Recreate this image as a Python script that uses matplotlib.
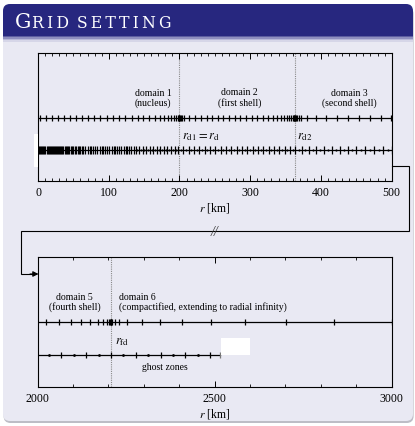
import matplotlib
matplotlib.use("Agg")
import matplotlib.pyplot as plt
from matplotlib.patches import FancyBboxPatch, Rectangle
import numpy as np

plt.rcParams['font.family'] = ['Liberation Serif', 'DejaVu Serif']
plt.rcParams['mathtext.fontset'] = 'stix'

# colours of the slide block
TITLE_BLUE = '#27277f'
BODY = '#e9e9f3'

# domain boundaries [km]
r_d1 = 200
r_d2 = 363
r_fd = 2207

# spectral collocation points, inner part (0 - 500 km)
spec_inner = [3, 11.3, 19.8, 28.3, 36.8, 45.2, 53.7, 62.2, 70.7, 79.6, 88.1, 97.1,
              106, 115, 123.4, 132.4, 140.9, 148.9, 157.4, 165.4, 172.5, 178.6,
              183.8, 188, 191.8, 195, 197.4, 198.6, 199.4, 200, 200.6, 201.5, 203,
              206.5, 213.9, 222, 230.4, 238.5, 246.5, 254.5, 262, 270, 278, 286,
              294, 302, 310, 318.5, 325.6, 332.7, 338.3, 343, 347.7, 351.5, 354.8,
              357.5, 359.8, 361.5, 362.5, 363, 363.6, 364.6, 366.6, 369, 372.3,
              380.8, 392.5, 406.6, 422.2, 438.2, 454.2, 469.3, 484.4, 499.5]

# finite-difference cell interfaces, inner part
fd_faces = [0, 1.5, 3, 4.5, 6, 7.5, 9, 10.5, 12, 13.5, 15, 16.5, 18, 19.5, 21,
            22.5, 24, 25.5, 27, 28.5, 30, 31.5, 33, 34.5, 36, 37.5, 39, 40.5, 42,
            44, 46, 48, 50, 52, 54, 56, 58, 60, 62, 64,
            67, 70, 73, 75, 78, 81, 84, 87, 90, 92, 95, 98, 101, 104, 107, 109,
            112, 115, 118, 121, 124, 126, 129, 132, 135, 138,
            143, 148, 153, 158, 163, 168, 173, 178, 183, 188, 193, 198,
            205.4, 213, 220.5, 228, 235.6, 243.1, 250.7, 258.2, 265.8, 273.3,
            280.8, 288.4, 295.9, 303.5, 311, 318.6, 326.1, 333.6, 341.2, 348.7,
            356.3, 363.8, 373, 383, 393.5, 404, 415, 426.5, 438, 450, 462.5, 475,
            488, 501]

# spectral collocation points, outer part (2000 - 3000 km)
spec_outer = [2024.5, 2060, 2093, 2123.5, 2148, 2169, 2185, 2196, 2201, 2204, 2206,
              2207, 2208, 2210, 2218.6, 2230, 2253.6, 2294, 2345, 2409, 2491, 2585,
              2701, 2838, 3000]

# ghost zones of the finite-difference grid
ghost_faces = [2067, 2137, 2207, 2277, 2347, 2417, 2487]
ghost_centers = [2032, 2102, 2172, 2242, 2312, 2382, 2452]
ghost_end = 2516

W, H = 415, 427
fig = plt.figure(figsize=(W / 100, H / 100), dpi=100)
fig.patch.set_facecolor('white')

# background: the beamer block drawn in pixel coordinates
bg = fig.add_axes([0, 0, 1, 1], zorder=0)
bg.set_xlim(0, W)
bg.set_ylim(H, 0)
bg.axis('off')

bg.add_patch(FancyBboxPatch((3.6, 8), 410, 416, boxstyle="round,pad=0,rounding_size=7",
                            fc='#bdbdc6', ec='none'))
bg.add_patch(FancyBboxPatch((3, 5), 410, 417, boxstyle="round,pad=0,rounding_size=7",
                            fc=BODY, ec='none'))
bg.add_patch(FancyBboxPatch((3, 5), 410, 33, boxstyle="round,pad=0,rounding_size=7",
                            fc=TITLE_BLUE, ec='none'))
bg.add_patch(Rectangle((3, 25), 410, 12, fc=TITLE_BLUE, ec='none'))
# soft shadow under the title bar
shade = ['#5c5ca0', '#8e8ebf', '#b8b8d8', '#d6d6e8']
for i, c in enumerate(shade):
    bg.add_patch(Rectangle((3, 37 + 1.4 * i), 410, 1.4, fc=c, ec='none'))

# small-caps title: big initial, letter-spaced rest
bg.text(14.5, 27.5, 'G', color='white', fontsize=14.8, va='baseline', ha='left',
        family='DejaVu Serif')
bg.text(31.5, 27.5, 'R\u2009I\u2009D\u2002S\u2009E\u2009T\u2009T\u2009I\u2009N\u2009G',
        color='white', fontsize=11.3, va='baseline', ha='left', family='DejaVu Serif')

# connector between the two panels
bg.plot([392, 409, 409, 20.5, 20.5, 33], [167, 167, 232, 232, 275, 275],
        color='k', lw=0.8, solid_joinstyle='miter')
bg.annotate('', xy=(38.5, 275), xytext=(30, 275),
            arrowprops=dict(arrowstyle='-|>', color='k', lw=0.8,
                            mutation_scale=8, shrinkA=0, shrinkB=0))
bg.text(215, 232.5, '//', fontsize=10, color='#3a3a3a', ha='center', va='center',
        style='italic')


def style_axis(ax, major, minor):
    ax.set_facecolor('none')
    ax.set_ylim(0, 1)
    ax.set_yticks([])
    ax.set_xticks(major)
    ax.set_xticks(minor, minor=True)
    ax.tick_params(axis='x', which='both', direction='in', top=True, bottom=True,
                   labelsize=8.5, pad=4)
    ax.tick_params(axis='x', which='major', length=4.5, width=0.7)
    ax.tick_params(axis='x', which='minor', length=2.2, width=0.6)
    for s in ax.spines.values():
        s.set_linewidth(0.8)
    ax.set_xlabel('$r$ [km]', fontsize=8.5, labelpad=1)


# top panel: 0 - 500 km
ax1 = fig.add_axes([0.0916, 0.5745, 0.8523, 0.2991], zorder=1)
ax1.set_xlim(0, 500)
style_axis(ax1, np.arange(0, 501, 100), np.arange(0, 501, 10))

y_spec, y_fd = 0.493, 0.24
ax1.axhline(y_spec, color='k', lw=0.9)
ax1.plot(spec_inner, [y_spec] * len(spec_inner), '|', color='k', ms=4.2, mew=0.9)
ax1.axhline(y_fd, color='k', lw=0.9)
faces = np.array(fd_faces)
ax1.plot(faces, [y_fd] * len(faces), '|', color='k', ms=6.2, mew=0.9)
centers = (faces[:-1] + faces[1:]) / 2
centers = centers[centers > 140]
ax1.plot(centers, [y_fd] * len(centers), 'o', color='k', ms=1.6, mew=0)
for r in (r_d1, r_d2):
    ax1.axvline(r, color='#8a8a8a', lw=0.8, ls=(0, (1, 1)), zorder=0.5)

ax1.add_patch(Rectangle((-5.7, 0.11), 6.0, 0.256, fc='white', ec='none',
                        clip_on=False, zorder=5))

lab = dict(fontsize=7, ha='center', va='center', linespacing=1.05)
ax1.text(163, 0.655, 'domain 1\n(nucleus)', **lab)
ax1.text(285, 0.655, 'domain 2\n(first shell)', **lab)
ax1.text(440, 0.655, 'domain 3\n(second shell)', **lab)
ax1.text(203, 0.35, r'$r_{\rm d1} = r_{\rm d}$', fontsize=9, ha='left', va='center')
ax1.text(366, 0.35, r'$r_{\rm d2}$', fontsize=9, ha='left', va='center')

# bottom panel: 2000 - 3000 km
ax2 = fig.add_axes([0.0908, 0.0920, 0.853, 0.303], zorder=1)
ax2.set_xlim(2000, 3000)
style_axis(ax2, [2000, 2500, 3000], np.arange(2000, 3001, 100))

y_spec2, y_gh = 0.5, 0.245
ax2.axhline(y_spec2, color='k', lw=0.9)
ax2.plot(spec_outer, [y_spec2] * len(spec_outer), '|', color='k', ms=4.2, mew=0.9)
ax2.plot([2000, ghost_end], [y_gh, y_gh], color='k', lw=0.9)
ax2.plot(ghost_faces, [y_gh] * len(ghost_faces), '|', color='k', ms=5, mew=0.9)
ax2.plot(ghost_centers, [y_gh] * len(ghost_centers), 'o', color='k', ms=2, mew=0)
ax2.plot([ghost_end], [y_gh], '|', color='#777777', ms=5, mew=0.9)
ax2.axvline(r_fd, color='#8a8a8a', lw=0.8, ls=(0, (1, 1)), zorder=0.5)

ax2.add_patch(Rectangle((2519, 0.245), 82, 0.129, fc='white', ec='none', zorder=5))

ax2.text(2105, 0.66, 'domain 5\n(fourth shell)', **lab)
ax2.text(2229, 0.66, 'domain 6\n(compactified, extending to radial infinity)',
         fontsize=7, ha='left', va='center', linespacing=1.05)
ax2.text(2218, 0.35, r'$r_{\rm fd}$', fontsize=9, ha='left', va='center')
ax2.text(2359, 0.155, 'ghost zones', fontsize=7, ha='center', va='center')

fig.savefig('out.png', dpi=100)
